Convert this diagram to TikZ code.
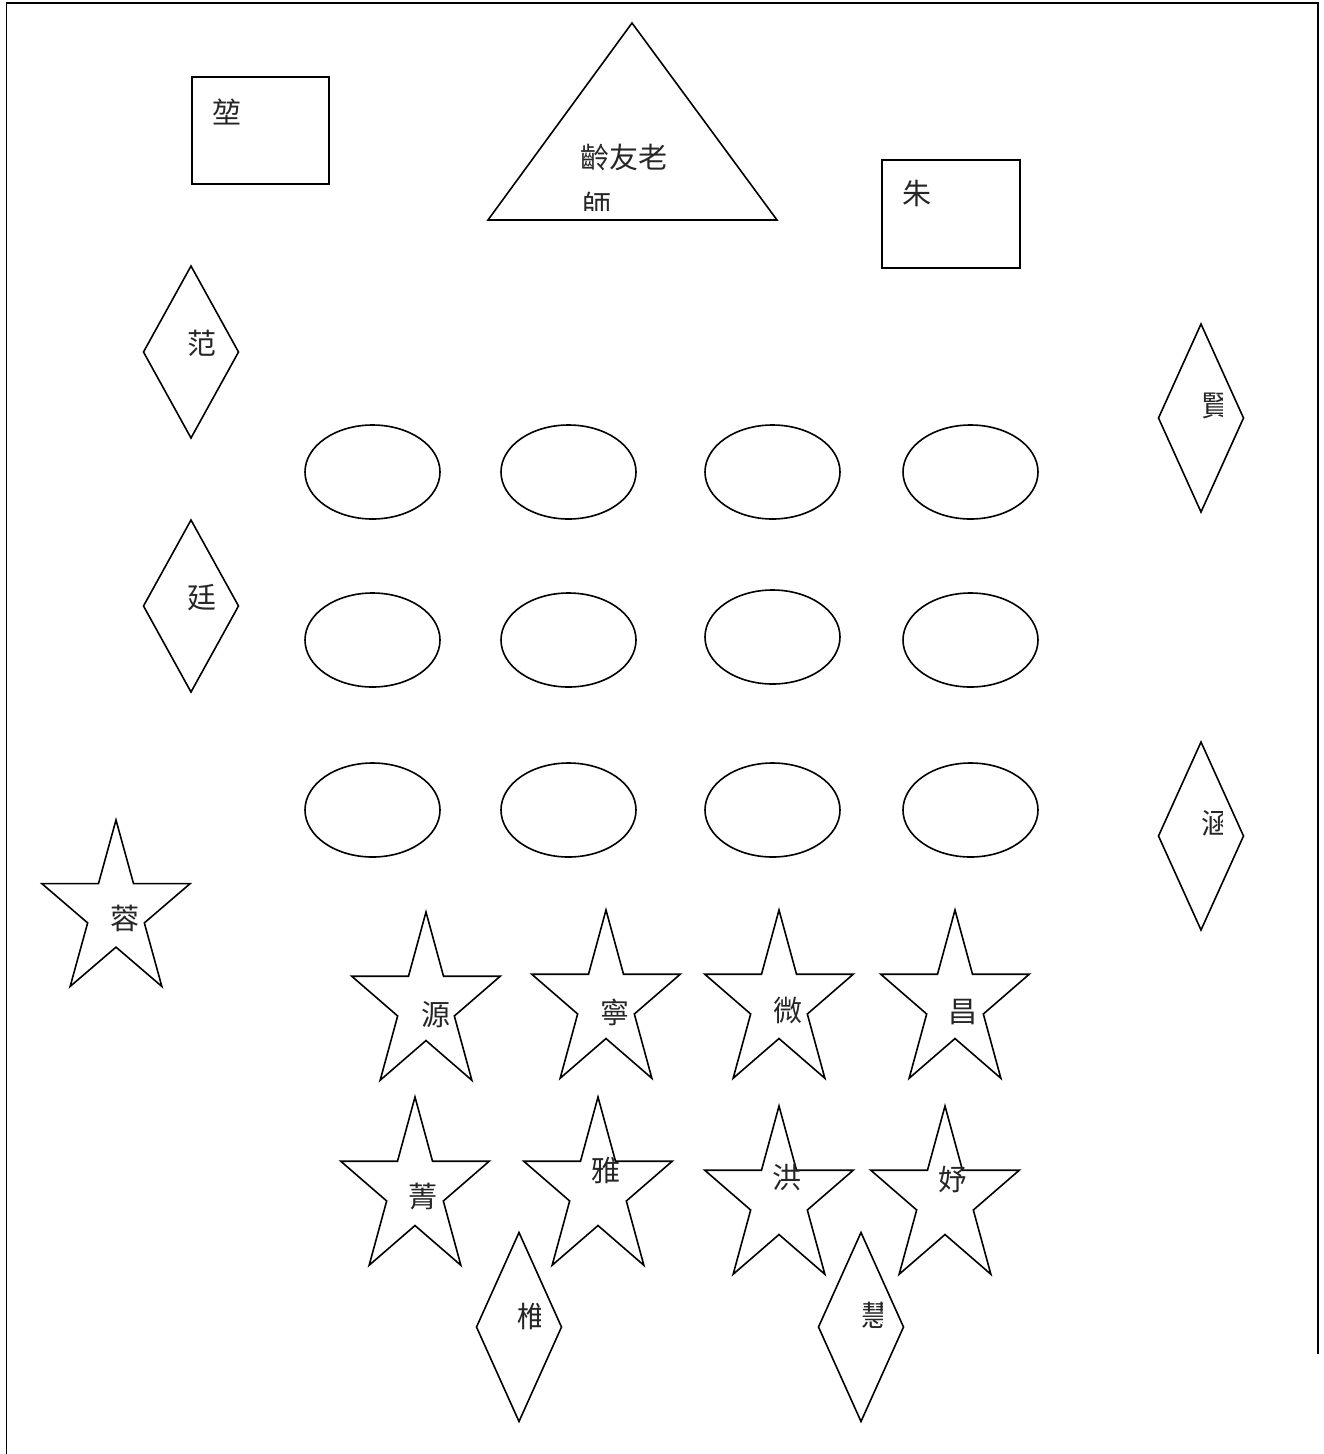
\documentclass[tikz,border=0pt]{standalone}
\usepackage{fontspec}
\newfontfamily\cjk{Noto Sans CJK TC}
\usetikzlibrary{shapes.geometric}
\tikzset{
  shp/.style={draw=black,line width=1.6pt,line join=miter},
  lbl/.style={inner sep=0pt,font=\cjk\fontsize{29}{34}\selectfont,text=black!85},
  oval/.style={shp,ellipse,minimum width=135pt,minimum height=94pt,inner sep=0pt},
}
\newcommand{\mystar}[4]{%
  \draw[shp,shift={(#1,#2)}] (90:#3pt and #4pt)
    -- (126:0.382*#3pt and 0.382*#4pt) -- (162:#3pt and #4pt)
    -- (198:0.382*#3pt and 0.382*#4pt) -- (234:#3pt and #4pt)
    -- (270:0.382*#3pt and 0.382*#4pt) -- (306:#3pt and #4pt)
    -- (342:0.382*#3pt and 0.382*#4pt) -- (18:#3pt and #4pt)
    -- (54:0.382*#3pt and 0.382*#4pt) -- cycle;}
\begin{document}
\begin{tikzpicture}[x=1pt,y=-1pt]
\useasboundingbox (0,0) rectangle (1323,1454);
% border
\coordinate (b1) at (6.5,1454);
\coordinate (b2) at (6.5,3);
\coordinate (b3) at (1318,3);
\coordinate (b4) at (1318,1354);
\draw[line width=1.8pt] (b1) -- (b2) -- (b3) -- (b4);
% rectangles
\node[shp,rectangle,minimum width=137pt,minimum height=107pt,anchor=north west] (r1) at (191,76) {};
\node[lbl] (t1) at (227,112) {堃};
\node[shp,rectangle,minimum width=138pt,minimum height=108pt,anchor=north west] (r2) at (881,159) {};
\node[lbl] (t2) at (917,193) {朱};
% triangle
\coordinate (ta) at (632,23);
\coordinate (tl) at (488,220);
\coordinate (tr) at (777,220);
\draw[shp] (ta) -- (tl) -- (tr) -- cycle;
\node[lbl] (t3) at (624,157) {齡友老};
\begin{scope}
\clip (560,180) rectangle (700,210);
\node[lbl,anchor=west] (t4) at (582,205) {師};
\end{scope}
% diamonds
\newcommand{\dia}[5]{% cx cy halfw halfh name
  \coordinate (#5n) at (#1,#2-#4);
  \coordinate (#5e) at (#1+#3,#2);
  \coordinate (#5s) at (#1,#2+#4);
  \coordinate (#5w) at (#1-#3,#2);
  \draw[shp] (#5n) -- (#5e) -- (#5s) -- (#5w) -- cycle;}
\dia{191}{352}{47.5}{86}{dA}
\node[lbl] (tA) at (202,343) {范};
\dia{191}{606}{47.5}{86}{dB}
\node[lbl] (tB) at (202,598) {廷};
\dia{1201}{418}{42.5}{94}{dC}
\begin{scope}\clip (1190,380) rectangle (1222,440);
\node[lbl] (tC) at (1216,406) {賢};\end{scope}
\dia{1201}{836}{42.5}{94}{dD}
\begin{scope}\clip (1190,795) rectangle (1222,855);
\node[lbl] (tD) at (1216,824) {涵};\end{scope}
\dia{519}{1327}{42.5}{94.5}{dE}
\begin{scope}\clip (505,1285) rectangle (540,1345);
\node[lbl] (tE) at (532,1316) {椎};\end{scope}
\dia{861}{1327}{42.5}{94.5}{dF}
\begin{scope}\clip (850,1285) rectangle (882,1345);
\node[lbl] (tF) at (876,1315) {慧};\end{scope}
% ellipses
\foreach \cx [count=\i] in {372.5,568.5,772.5,970.5}{
  \node[oval] (e1\i) at (\cx,472) {};
  \node[oval] (e3\i) at (\cx,810) {};
}
\node[oval] (e21) at (372.5,640) {};
\node[oval] (e22) at (568.5,640) {};
\node[oval] (e23) at (772.5,637) {};
\node[oval] (e24) at (970.5,640) {};
% stars
\mystar{116}{912}{78}{92}
\node[lbl] (s0) at (125,918) {蓉};
\mystar{426}{1005}{78}{93}
\node[lbl] (s1) at (436,1015) {源};
\mystar{606}{1003}{78}{93}
\node[lbl] (s2) at (615,1012) {寧};
\mystar{779}{1003}{78}{93}
\node[lbl] (s3) at (788,1010) {微};
\mystar{955}{1003}{78}{93}
\node[lbl] (s4) at (963,1012) {昌};
\mystar{415}{1190}{78}{93}
\node[lbl] (s5) at (423,1197) {菁};
\mystar{598}{1190}{78}{93}
\node[lbl] (s6) at (606,1170) {雅};
\mystar{779}{1199}{78}{93}
\node[lbl] (s7) at (787,1178) {洪};
\mystar{945}{1199}{78}{93}
\node[lbl] (s8) at (953,1180) {妤};
\end{tikzpicture}
\end{document}
